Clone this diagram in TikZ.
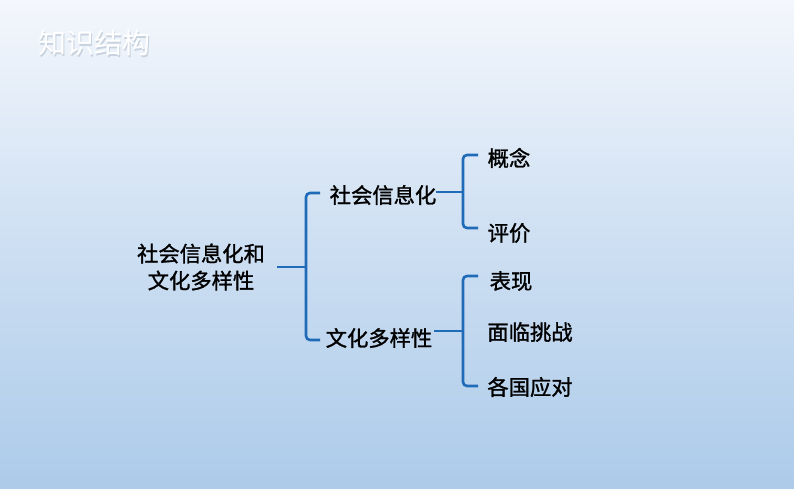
\documentclass[tikz,border=0pt]{standalone}
\usepackage{fontspec}
\newfontfamily\cjk[FakeBold=1.3]{Noto Sans CJK SC}
\newfontfamily\cjkt{Noto Sans CJK SC}
\definecolor{bgtop}{HTML}{F4F7FC}
\definecolor{bgbot}{HTML}{ADCBEA}
\definecolor{bline}{HTML}{1F6BB8}
\definecolor{shadowc}{HTML}{C8D2DE}
\tikzset{
  txt/.style={inner sep=0pt, font=\cjk\fontsize{21.3}{27}\selectfont, text=black},
  ttl/.style={inner sep=0pt, font=\cjkt\fontsize{28}{30}\selectfont},
  brace/.style={draw=bline, line width=2.6pt, rounded corners=4pt, line cap=butt},
  stub/.style={draw=bline, line width=2.6pt}
}
\begin{document}
\begin{tikzpicture}[x=1pt,y=-1pt]
\useasboundingbox (0,0) rectangle (794,488);
\shade[top color=bgtop, bottom color=bgbot, middle color={bgtop!45!bgbot}] (0,0) rectangle (794,488);
% title
\node[ttl, text=shadowc] (titleshadow) at (95.5,44.5) {知识结构};
\node[ttl, text=white] (title) at (94,43) {知识结构};
% nodes
\node[txt, align=center] (root) at (201,267) {社会信息化和\\文化多样性};
\node[txt] (s) at (383,195) {社会信息化};
\node[txt] (w) at (379,338) {文化多样性};
\node[txt] (gn) at (509,158) {概念};
\node[txt] (pj) at (509,233) {评价};
\node[txt] (bx) at (511,281) {表现};
\node[txt] (ml) at (530,332) {面临挑战};
\node[txt] (gg) at (530,387) {各国应对};
% bracket 1
\coordinate (r0) at (277,267);
\coordinate (b1m) at (306,267);
\coordinate (b1t) at (306,193);
\coordinate (b1b) at (306,340);
\coordinate (b1te) at (320,193);
\coordinate (b1be) at (320,340);
\draw[stub] (r0) -- (b1m);
\draw[brace] (b1te) -- (b1t) -- (b1b) -- (b1be);
% bracket 2
\coordinate (s0) at (436,192);
\coordinate (b2m) at (463,192);
\coordinate (b2t) at (463,155);
\coordinate (b2b) at (463,228);
\coordinate (b2te) at (478,155);
\coordinate (b2be) at (478,228);
\draw[stub] (s0) -- (b2m);
\draw[brace] (b2te) -- (b2t) -- (b2b) -- (b2be);
% bracket 3
\coordinate (w0) at (434,331);
\coordinate (b3m) at (463,331);
\coordinate (b3t) at (463,276);
\coordinate (b3b) at (463,386);
\coordinate (b3te) at (478,276);
\coordinate (b3be) at (478,386);
\draw[stub] (w0) -- (b3m);
\draw[brace] (b3te) -- (b3t) -- (b3b) -- (b3be);
\end{tikzpicture}
\end{document}
